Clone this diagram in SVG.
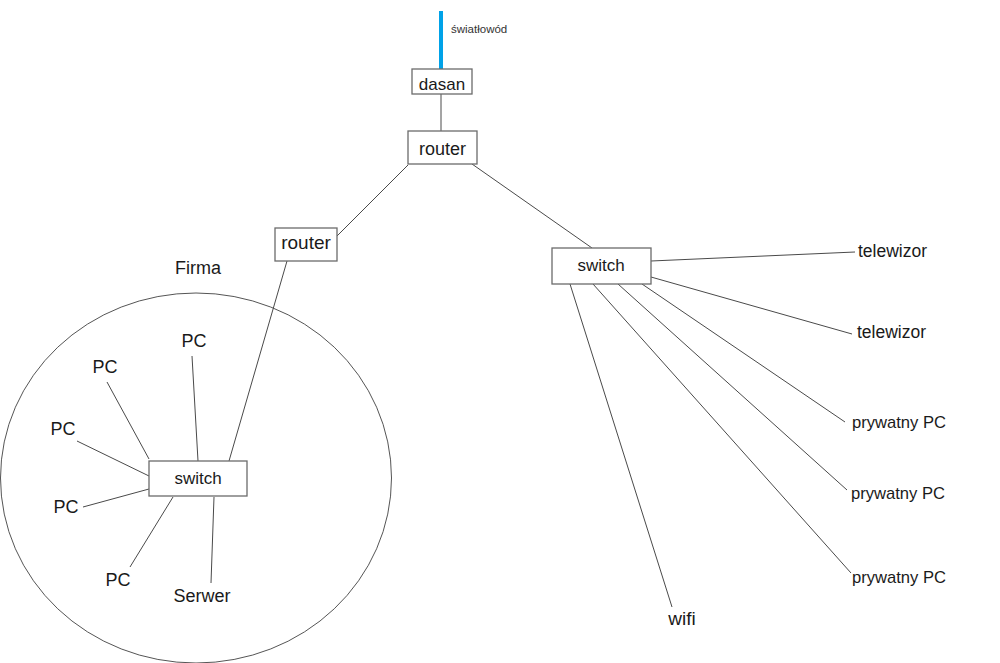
<svg xmlns="http://www.w3.org/2000/svg" width="1000" height="663" viewBox="0 0 1000 663">
<style>
text{font-family:"Liberation Sans",Arial,sans-serif;fill:#1a1a1a}
.box{fill:#fff;stroke:#6b6b6b;stroke-width:1.3}
.ln{stroke:#4a4a4a;stroke-width:1;fill:none}
.lbl{font-size:18px;text-anchor:middle}
.sm{font-size:17px;text-anchor:start}
</style>
<rect width="1000" height="663" fill="#fff"/>
<g id="firma-area">
<ellipse cx="196" cy="478" rx="195.5" ry="185" fill="none" stroke="#555" stroke-width="1"/>
<text x="198" y="274" class="lbl">Firma</text>
</g>
<g id="connectors">
<line x1="441" y1="11" x2="441" y2="69" stroke="#00a2e8" stroke-width="4"/>
<line class="ln" x1="441" y1="94" x2="441" y2="131"/>
<line class="ln" x1="408" y1="165" x2="337" y2="236"/>
<line class="ln" x1="472" y1="164" x2="592" y2="248"/>
<line class="ln" x1="287" y1="261" x2="229" y2="461"/>
<line class="ln" x1="192" y1="356" x2="198" y2="461"/>
<line class="ln" x1="107" y1="382" x2="149" y2="459"/>
<line class="ln" x1="77" y1="441" x2="149" y2="476"/>
<line class="ln" x1="83" y1="507" x2="149" y2="489"/>
<line class="ln" x1="130" y1="567" x2="173" y2="497"/>
<line class="ln" x1="211" y1="583" x2="214" y2="497"/>
<line class="ln" x1="651" y1="261" x2="855" y2="252"/>
<line class="ln" x1="651" y1="277" x2="852" y2="334"/>
<line class="ln" x1="642" y1="284" x2="845" y2="422"/>
<line class="ln" x1="618" y1="284" x2="847" y2="490"/>
<line class="ln" x1="593" y1="284" x2="851" y2="573"/>
<line class="ln" x1="570" y1="284" x2="672" y2="607"/>
</g>
<g id="swiatlowod">
<text x="451" y="33" style="font-size:11.5px;fill:#333">światłowód</text>
</g>
<g id="dasan">
<rect class="box" x="412" y="69" width="60" height="25"/>
<text x="442" y="90" class="lbl" style="font-size:17px">dasan</text>
</g>
<g id="router-main">
<rect class="box" x="408" y="131" width="69" height="33"/>
<text x="442.5" y="155" class="lbl">router</text>
</g>
<g id="router-firma">
<rect class="box" x="275" y="228" width="62" height="33"/>
<text x="306" y="249" class="lbl" style="font-size:19px">router</text>
</g>
<g id="switch-home">
<rect class="box" x="552" y="248" width="99" height="36"/>
<text x="601" y="271" class="lbl" style="font-size:17px">switch</text>
</g>
<g id="switch-firma">
<rect class="box" x="149" y="461" width="98" height="35"/>
<text x="198" y="484" class="lbl" style="font-size:17px">switch</text>
</g>
<g id="pc1"><text x="194" y="347" class="lbl">PC</text></g>
<g id="pc2"><text x="105" y="373" class="lbl">PC</text></g>
<g id="pc3"><text x="63" y="435" class="lbl">PC</text></g>
<g id="pc4"><text x="66" y="513" class="lbl">PC</text></g>
<g id="pc5"><text x="118" y="586" class="lbl">PC</text></g>
<g id="serwer"><text x="202" y="602" class="lbl">Serwer</text></g>
<g id="telewizor1"><text x="858" y="257" class="sm" style="font-size:17.5px">telewizor</text></g>
<g id="telewizor2"><text x="857" y="338" class="sm" style="font-size:17.5px">telewizor</text></g>
<g id="prywatny1"><text x="852" y="428" class="sm" style="font-size:16.6px">prywatny PC</text></g>
<g id="prywatny2"><text x="851" y="499" class="sm" style="font-size:16.6px">prywatny PC</text></g>
<g id="prywatny3"><text x="852" y="583" class="sm" style="font-size:16.6px">prywatny PC</text></g>
<g id="wifi"><text x="682" y="625" class="lbl" style="font-size:19px">wifi</text></g>
</svg>
